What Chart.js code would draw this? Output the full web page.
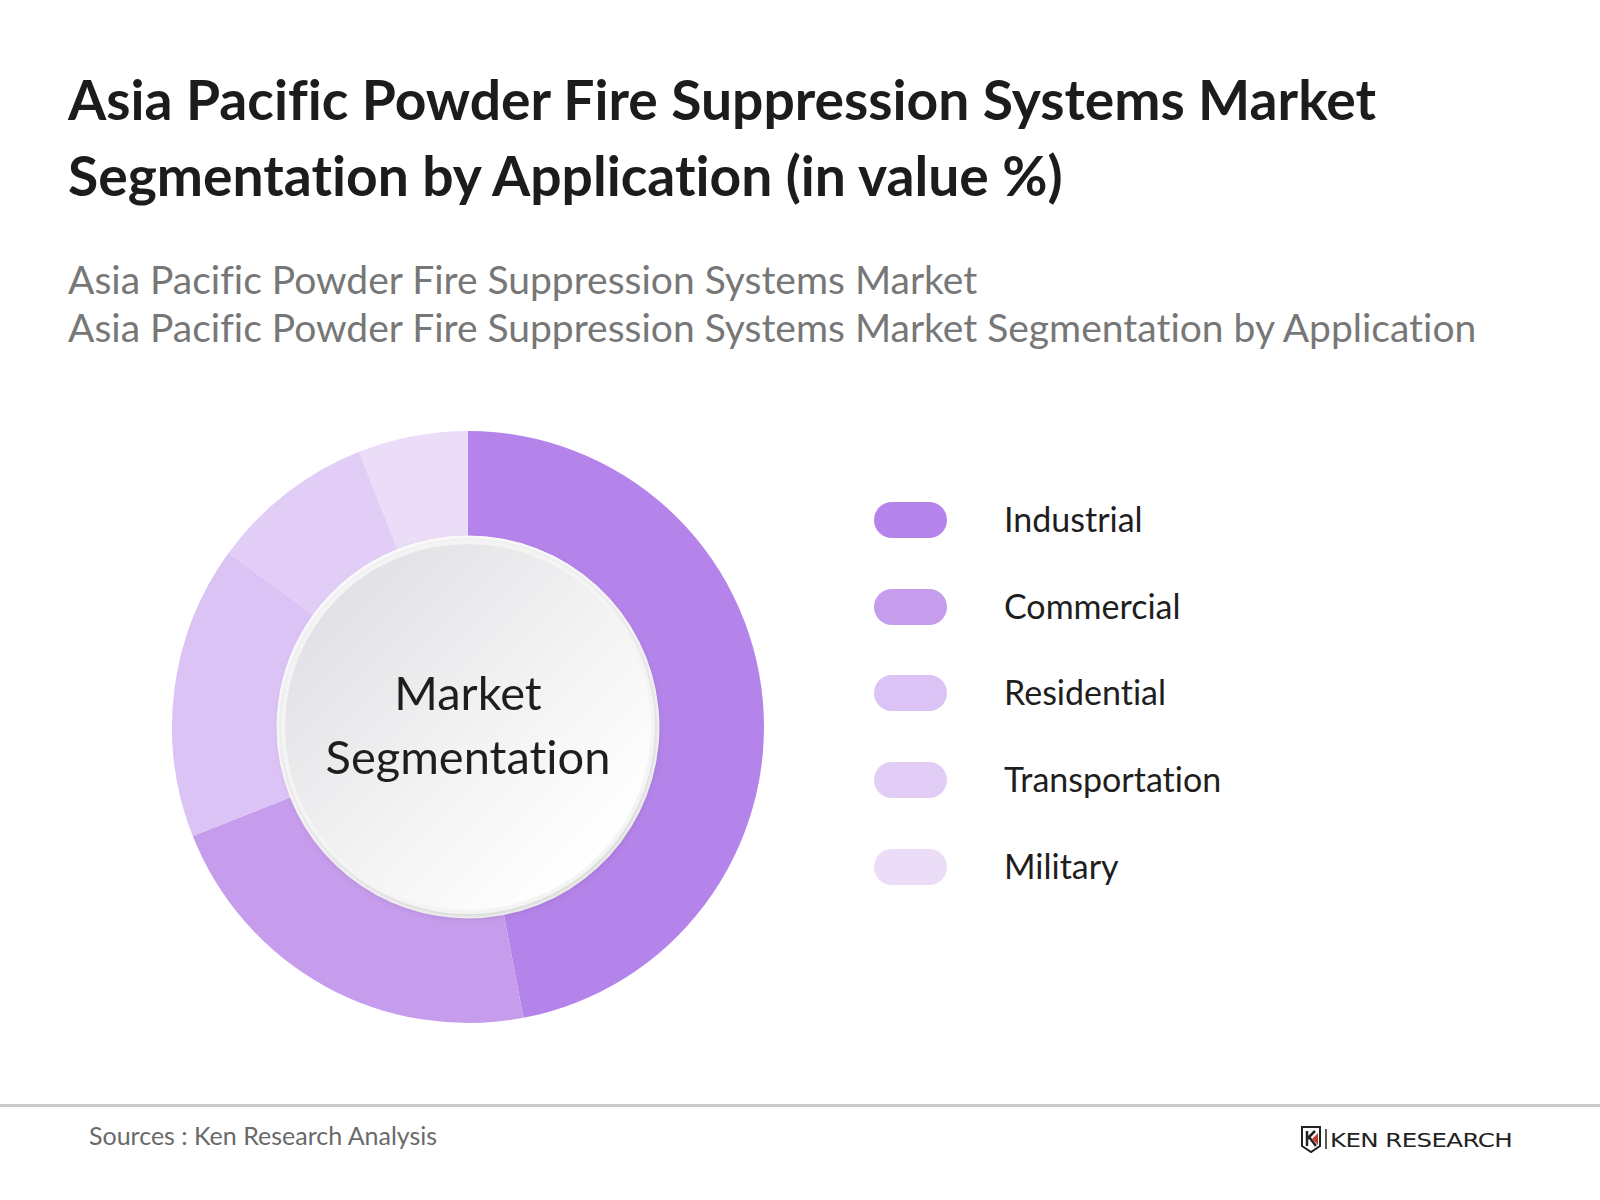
<!DOCTYPE html>
<html>
<head>
<meta charset="utf-8">
<script src="https://cdn.jsdelivr.net/npm/chart.js@4/dist/chart.umd.min.js"></script>
<style>
  html, body { margin:0; padding:0; background:#fff; }
  body { width:1600px; height:1200px; position:relative; overflow:hidden; font-family:Lato, "Open Sans", sans-serif; font-variant-ligatures:none; font-feature-settings:"liga" 0, "clig" 0, "dlig" 0; }
  #title { position:absolute; left:68px; top:61px; font-size:55.2px; line-height:76px; font-weight:700; color:#1c1c1c; white-space:nowrap; }
  #subtitle { position:absolute; left:68px; top:255px; font-size:39px; line-height:48px; color:#777; white-space:nowrap; }
  #chartWrap { position:absolute; left:168px; top:427px; width:600px; height:600px; }
  #center { position:absolute; left:168px; top:427px; width:600px; height:600px; pointer-events:none; }
  #center div { position:absolute; left:0; width:600px; text-align:center; font-size:47px; line-height:56px; color:#1e1e1e; }
  #legend { position:absolute; left:874px; top:502px; }
  .item { position:absolute; left:0; height:36px; white-space:nowrap; }
  .pill { position:absolute; left:0; top:0; width:73px; height:36px; border-radius:18px; }
  .lab { position:absolute; left:130px; top:-3px; font-size:34px; line-height:40px; color:#1e1e1e; }
  #rule { position:absolute; left:0; top:1104px; width:1600px; height:3px; background:#c9c9c9; }
  #source { position:absolute; left:89px; top:1121px; font-size:25px; line-height:28px; color:#6a6a6a; }
  #logo { position:absolute; left:1300px; top:1124px; height:30px; }
</style>
</head>
<body>
<div id="title">Asia Pacific Powder Fire Suppression Systems Market<br>Segmentation by Application (in value %)</div>
<div id="subtitle">Asia Pacific Powder Fire Suppression Systems Market<br>Asia Pacific Powder Fire Suppression Systems Market Segmentation by Application</div>
<div id="chartWrap"><canvas id="c" width="600" height="600"></canvas></div>
<div id="center"></div>
<div id="legend"></div>
<div id="rule"></div>
<div id="source">Sources : Ken Research Analysis</div>
<svg id="logo" width="220" height="30" viewBox="0 0 220 30">
  <path d="M2 3 L20 3 L20 22 L11 28 L2 22 Z" fill="none" stroke="#222" stroke-width="2"/>
  <path d="M7 7 L7 22 M7 15 L15 7 M9 13 L16 22" fill="none" stroke="#222" stroke-width="2.5"/>
  <path d="M12 15 L18 9 L18 21 Z" fill="#c0392b"/>
  <line x1="26" y1="5" x2="26" y2="25" stroke="#222" stroke-width="1.5"/>
  <text x="30" y="23" font-family="DejaVu Sans, sans-serif" font-size="20" fill="#222" letter-spacing="-0.5" textLength="182" lengthAdjust="spacingAndGlyphs">KEN RESEARCH</text>
</svg>
<script>
const categories = ["Industrial", "Commercial", "Residential", "Transportation", "Military"];
const shares = [47, 22, 16, 9, 6];
const colors = ["#b584ea", "#c69cec", "#dbc3f5", "#e1cdf6", "#ebdcf8"];
const centerLines = ["Market", "Segmentation"];

// HTML legend built from the arrays
const legend = document.getElementById('legend');
const rowTops = [0, 87, 173, 260, 347];
categories.forEach((name, i) => {
  const it = document.createElement('div');
  it.className = 'item';
  it.style.top = rowTops[i] + 'px';
  it.innerHTML = '<div class="pill" style="background:' + colors[i] + '"></div><div class="lab">' + name + '</div>';
  legend.appendChild(it);
});

// centre label
const center = document.getElementById('center');
const lineTops = [237, 301];
centerLines.forEach((t, i) => {
  const d = document.createElement('div');
  d.style.top = lineTops[i] + 'px';
  d.textContent = t;
  center.appendChild(d);
});

const centerDisc = {
  id: 'centerDisc',
  afterDatasetsDraw(chart) {
    const meta = chart.getDatasetMeta(0);
    const arc = meta.data[0];
    const cx = arc.x, cy = arc.y;
    const ctx = chart.ctx;
    ctx.save();
    const r = 187;
    ctx.beginPath();
    ctx.arc(cx, cy, r, 0, Math.PI * 2);
    ctx.shadowColor = 'rgba(0,0,0,0.22)';
    ctx.shadowBlur = 8;
    ctx.shadowOffsetX = 1;
    ctx.shadowOffsetY = 2;
    ctx.fillStyle = '#e6e6e6';
    ctx.fill();
    ctx.shadowColor = 'transparent';
    ctx.beginPath();
    ctx.arc(cx, cy, r, 0, Math.PI * 2);
    ctx.fillStyle = '#f4f4f4';
    ctx.fill();
    const g = ctx.createLinearGradient(cx - r * 0.7, cy - r * 0.7, cx + r * 0.7, cy + r * 0.7);
    g.addColorStop(0, '#e2e2e6');
    g.addColorStop(0.55, '#f3f3f4');
    g.addColorStop(1, '#ffffff');
    ctx.beginPath();
    ctx.arc(cx, cy, r - 4, 0, Math.PI * 2);
    ctx.fillStyle = g;
    ctx.fill();
    ctx.restore();
  }
};

new Chart(document.getElementById('c'), {
  type: 'doughnut',
  data: {
    labels: categories,
    datasets: [{
      data: shares,
      backgroundColor: colors,
      borderWidth: 0,
      hoverOffset: 0,
      offset: 0
    }]
  },
  options: {
    responsive: false,
    animation: false,
    radius: 296,
    cutout: 194,
    layout: { padding: 0 },
    plugins: { legend: { display: false }, tooltip: { enabled: false } },
    events: []
  },
  plugins: [centerDisc]
});
</script>
</body>
</html>
